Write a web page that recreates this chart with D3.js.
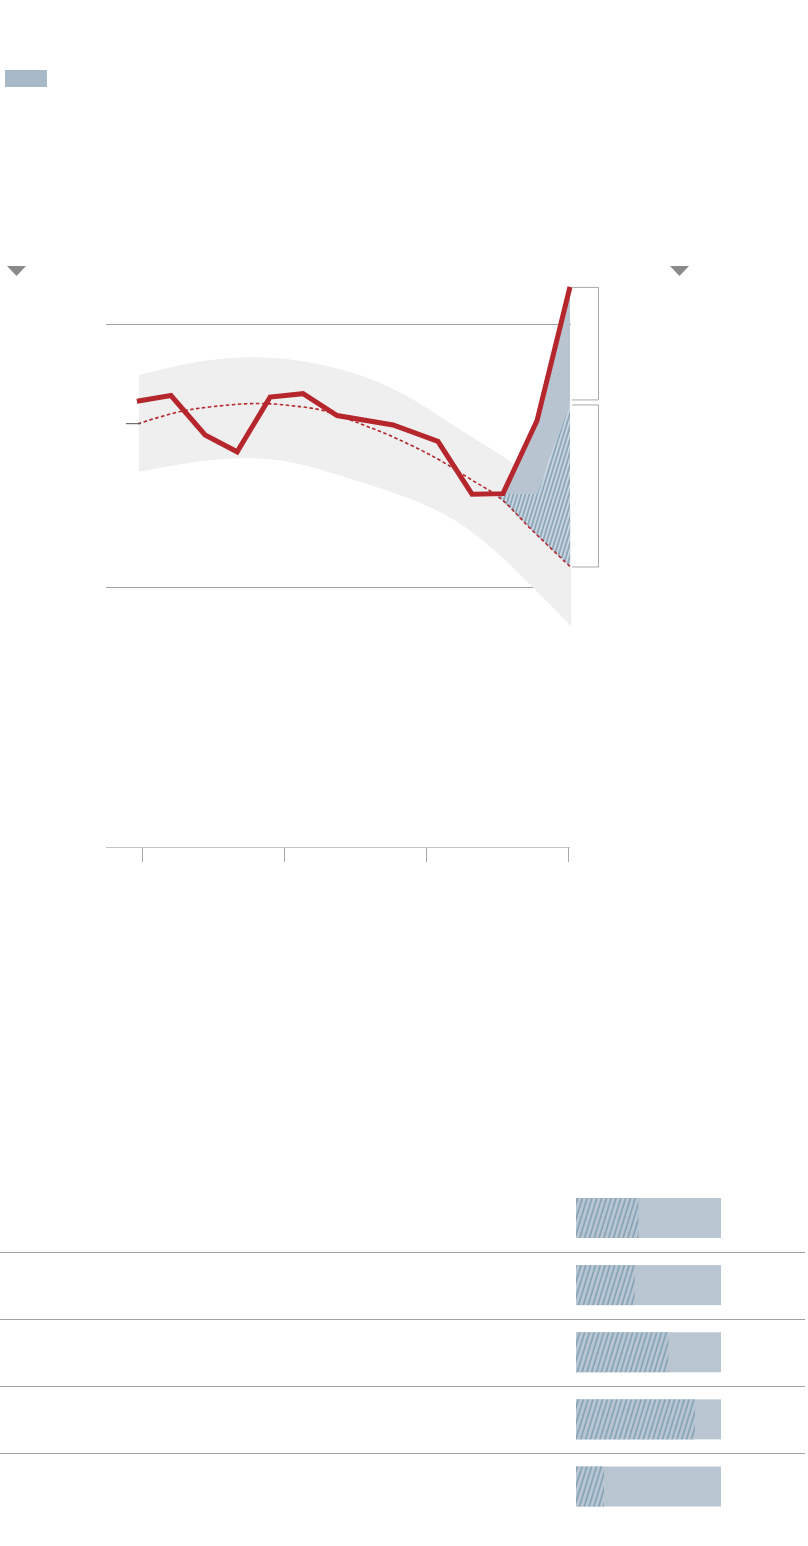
<!DOCTYPE html>
<html>
<head>
<meta charset="utf-8">
<script src="https://cdn.jsdelivr.net/npm/d3@7"></script>
<style>
html,body{margin:0;padding:0;background:#fff;}
svg{display:block;}
</style>
</head>
<body>
<script>
// ---- data ----
const xTicks = [0, 5, 10, 15];
const yGrid = [1, 2];
const actualX = [-0.18, 1.02, 2.22, 3.35, 4.51, 5.67, 6.87, 8.84, 10.42, 11.62, 12.71, 13.91, 15.07];
const actualY = [1.706, 1.728, 1.578, 1.514, 1.722, 1.735, 1.652, 1.616, 1.554, 1.353, 1.355, 1.633, 2.141];
const trendX = [-0.14, 1.34, 2.50, 4.05, 5.21, 6.37, 7.68, 8.98, 10.39, 11.55, 12.61, 13.66, 15.07];
const trendY = [1.621, 1.667, 1.686, 1.698, 1.690, 1.671, 1.621, 1.564, 1.488, 1.411, 1.338, 1.224, 1.078];
const bandX = [-0.11, 1.69, 3.45, 5.21, 6.97, 8.73, 10.25, 11.73, 13.20, 15.11];
const bandHigh = [1.805, 1.855, 1.878, 1.870, 1.832, 1.767, 1.667, 1.560, 1.468, 1.292];
const bandLow = [1.438, 1.476, 1.495, 1.484, 1.423, 1.365, 1.304, 1.208, 1.063, 0.849];
const splitX = [12.50, 12.71, 13.91, 15.07];
const splitMid = [1.346, 1.354, 1.354, 1.698];
const splitTrend = [1.346, 1.327, 1.197, 1.078];
const splitActual = [1.346, 1.355, 1.633, 2.141];
const barShares = [0.43, 0.405, 0.637, 0.82, 0.193];

// ---- setup ----
const W = 808, H = 1546;
const svg = d3.select("body").append("svg").attr("width", W).attr("height", H);
svg.append("rect").attr("width", W).attr("height", H).attr("fill", "#fff");

const defs = svg.append("defs");
function hatch(id, bg, stroke, w, sw) {
  const p = defs.append("pattern").attr("id", id)
    .attr("patternUnits", "userSpaceOnUse").attr("width", w).attr("height", 10)
    .attr("patternTransform", "rotate(17)");
  p.append("rect").attr("width", w).attr("height", 10).attr("fill", bg);
  p.append("line").attr("x1", 1).attr("x2", 1).attr("y1", 0).attr("y2", 10)
    .attr("stroke", stroke).attr("stroke-width", sw);
}
hatch("hatchChart", "#c9d5de", "#6a8fa8", 3.8, 1.2);
hatch("hatchBar", "#b9c6d2", "#7499b0", 4.6, 1.3);

const x = d3.scaleLinear().domain([0, 15]).range([142, 568]);
const y = d3.scaleLinear().domain([0, 1, 2]).range([847, 587, 324]);

// legend swatch
svg.append("rect").attr("x", 5).attr("y", 70).attr("width", 42).attr("height", 17).attr("fill", "#a8b9c7");

// triangles
[16.5, 679.5].forEach(cx => {
  svg.append("path").attr("d", `M${cx - 9.5},266 L${cx + 9.5},266 L${cx},276 Z`).attr("fill", "#8a8a8a");
});

// gridlines
svg.append("g").selectAll("line").data(yGrid).join("line")
  .attr("x1", 106).attr("x2", 571)
  .attr("y1", d => y(d) + 0.5).attr("y2", d => y(d) + 0.5)
  .attr("stroke", "#a0a0a0").attr("stroke-width", 1);

// x axis
const xAxis = d3.axisBottom(x).tickValues(xTicks).tickSize(15).tickFormat("");
const gx = svg.append("g").attr("transform", `translate(0,${y(0)})`).call(xAxis);
gx.select(".domain").attr("d", `M106,0.5H570`).attr("stroke", "#c4c4c4");
gx.selectAll(".tick line").attr("stroke", "#a8a8a8").attr("y1", 1);

// band
const bandData = bandX.map((d, i) => ({x: d, hi: bandHigh[i], lo: bandLow[i]}));
svg.append("path").datum(bandData)
  .attr("d", d3.area().x(d => x(d.x)).y0(d => y(d.lo)).y1(d => y(d.hi)).curve(d3.curveBasis))
  .attr("fill", "#efefef");

// split areas
const splitData = splitX.map((d, i) => ({x: d, mid: splitMid[i], tr: splitTrend[i], ac: splitActual[i]}));
svg.append("path").datum(splitData)
  .attr("d", d3.area().x(d => x(d.x)).y0(d => y(d.mid)).y1(d => y(d.ac)))
  .attr("fill", "#b8c5d1");
svg.append("path").datum(splitData)
  .attr("d", d3.area().x(d => x(d.x)).y0(d => y(d.tr)).y1(d => y(d.mid)))
  .attr("fill", "url(#hatchChart)");

// trend
const trendData = trendX.map((d, i) => ({x: d, v: trendY[i]}));
svg.append("path").datum(trendData)
  .attr("d", d3.line().x(d => x(d.x)).y(d => y(d.v)).curve(d3.curveCatmullRom))
  .attr("fill", "none").attr("stroke", "#b5272d").attr("stroke-width", 1.6)
  .attr("stroke-dasharray", "3.5,2.5");

// actual line
const actualData = actualX.map((d, i) => ({x: d, v: actualY[i]}));
svg.append("path").datum(actualData)
  .attr("d", d3.line().x(d => x(d.x)).y(d => y(d.v)))
  .attr("fill", "none").attr("stroke", "#b5272d").attr("stroke-width", 5)
  .attr("stroke-linejoin", "miter");

// leader line at trend start
svg.append("line").attr("x1", 126).attr("x2", x(trendX[0]) + 3)
  .attr("y1", y(trendY[0])).attr("y2", y(trendY[0]))
  .attr("stroke", "#555").attr("stroke-width", 1);

// brackets
const endAct = y(actualY[actualY.length - 1]);
const endMid = y(splitMid[splitMid.length - 1]);
const endTr = y(splitTrend[splitTrend.length - 1]);
function bracket(y1, y2) {
  svg.append("path").attr("d", `M572,${y1}H598.5V${y2}H572`)
    .attr("fill", "none").attr("stroke", "#aaa").attr("stroke-width", 1);
}
bracket(endAct + 0.5, endMid - 3.5);
bracket(endMid + 1.5, endTr + 0.5);

// bottom rows
const rowY = d3.scaleLinear().domain([0, 4]).range([1198, 1466.5]);
const barX = d3.scaleLinear().domain([0, 1]).range([576, 721]);
const barH = 40;
svg.append("g").selectAll("line").data(barShares.slice(1)).join("line")
  .attr("x1", 0).attr("x2", 805)
  .attr("y1", (d, i) => Math.round((rowY(i) + barH + rowY(i + 1)) / 2) + 0.5)
  .attr("y2", (d, i) => Math.round((rowY(i) + barH + rowY(i + 1)) / 2) + 0.5)
  .attr("stroke", "#a0a0a0").attr("stroke-width", 1);
const rows = svg.append("g").selectAll("g").data(barShares).join("g");
rows.append("rect").attr("x", barX(0)).attr("y", (d, i) => rowY(i))
  .attr("width", barX(1) - barX(0)).attr("height", barH).attr("fill", "#b9c6d2");
rows.append("rect").attr("x", barX(0)).attr("y", (d, i) => rowY(i))
  .attr("width", d => barX(d) - barX(0)).attr("height", barH).attr("fill", "url(#hatchBar)");
</script>
</body>
</html>
